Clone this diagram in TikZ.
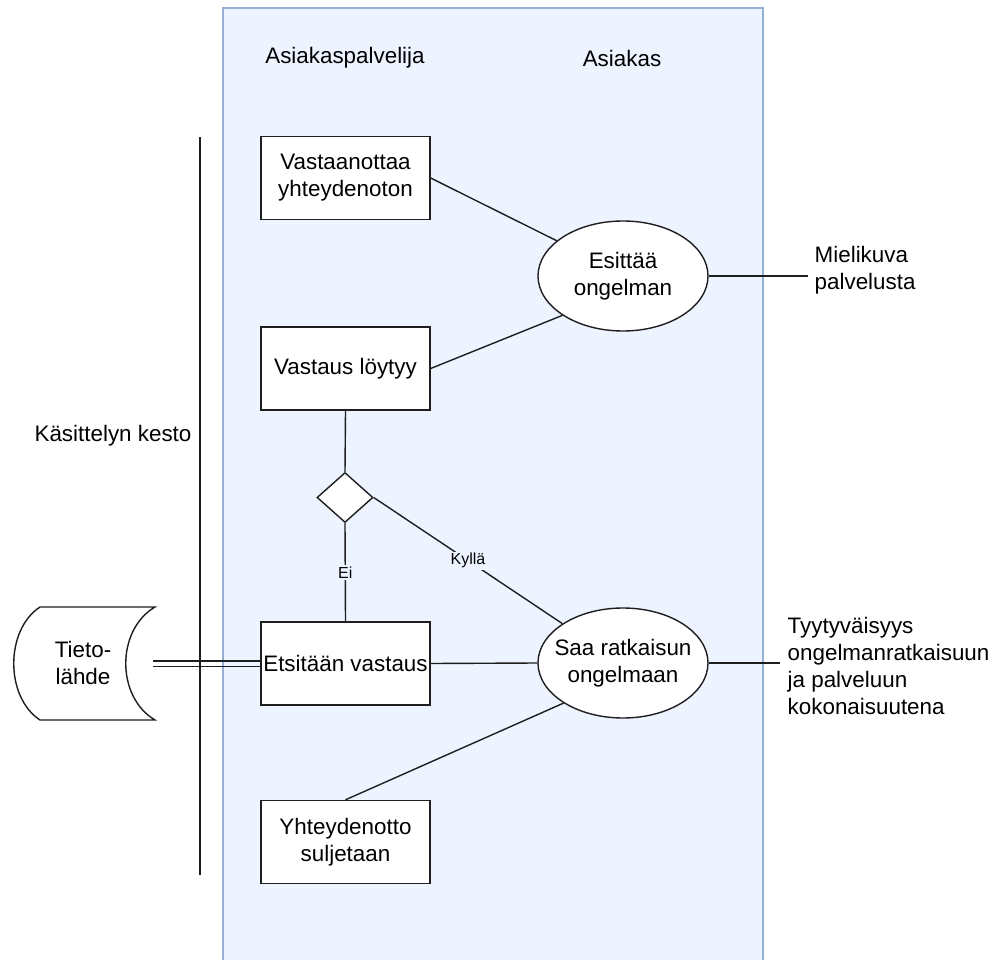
\documentclass[tikz,border=0pt]{standalone}
\usepackage{fontspec}
\setmainfont{Liberation Sans}
\usetikzlibrary{shapes.geometric}
\definecolor{lanefill}{RGB}{238,244,255}
\definecolor{lanedraw}{RGB}{150,175,215}
\definecolor{ink}{RGB}{30,30,30}
\begin{document}
\begin{tikzpicture}[x=1pt,y=-1pt,line width=1.4pt,draw=ink,
  every node/.style={font=\fontsize{22.4}{27}\selectfont,inner sep=0pt,text=black},
  every label/.style={font=\fontsize{22.4}{27}\selectfont,inner sep=0pt,align=center},
  proc/.style={draw=ink,fill=white,minimum width=169pt,minimum height=83pt,align=center},
  oval/.style={draw=ink,fill=white,ellipse,minimum width=170pt,minimum height=110pt},
  choice/.style={draw=ink,fill=white,diamond,minimum width=56pt,minimum height=50pt,inner sep=0pt},
  plain/.style={align=left},
  edgelabel/.style={fill=lanefill,inner sep=1.5pt,font=\fontsize{16}{19}\selectfont}
]
\useasboundingbox (0,0) rectangle (994,960);

% swimlane background
\draw[fill=lanefill,draw=lanedraw,line width=1.2pt] (223,8) rectangle (763,975);
\node (h1) at (345,58) {Asiakaspalvelija};
\node (h2) at (622,58) {Asiakas};

% duration bar
\coordinate (dtop) at (200,137);
\coordinate (dbot) at (200,875);
\draw (dtop) -- (dbot);
\node (dur) at (113,436) {Käsittelyn kesto};

% process boxes
\node[proc] (b1) at (345.5,178) {Vastaanottaa\\yhteydenoton};
\node[proc] (b2) at (345.5,368.5) {Vastaus löytyy};
\node[proc] (b3) at (345.5,663.5) {Etsitään vastaus};
\node[proc] (b4) at (345.5,842) {Yhteydenotto\\suljetaan};

% ellipses (fixed size, text set as a centred label)
\node[oval,label=center:{Esittää\\ongelman}] (e1) at (623,276) {};
\node[oval,label=center:{Saa ratkaisun\\ongelmaan}] (e2) at (623,663) {};

% decision
\node[choice] (d) at (345,497.5) {};

% data source
\draw[fill=white] (40,607) -- (155,607) .. controls (116,630) and (116,697) .. (155,720)
  -- (40,720) .. controls (5,697) and (5,630) .. (40,607) -- cycle;
\node[align=center] (src) at (83,663) {Tieto-\\lähde};
\coordinate (srcR) at (153,663.5);

% connectors
\draw (b1.east) -- (e1.152);
\draw (b2.east) -- (e1.213);
\draw (b2.south) -- (d.north);
\draw (d.south) -- node[edgelabel] {Ei} (b3.north);
\draw (d.east) -- node[edgelabel] {Kyllä} (e2.147);
\draw (b3.east) -- (e2.west);
\draw (b4.north) -- (e2.214);
\draw ([yshift=2.7pt]srcR) -- ([yshift=2.7pt]b3.west);
\draw ([yshift=-2.7pt]srcR) -- ([yshift=-2.7pt]b3.west);

% outcomes
\coordinate (o1) at (808,276);
\coordinate (o2) at (780,663);
\draw (e1.east) -- (o1);
\draw (e2.east) -- (o2);
\node[plain,anchor=west] (t1) at (814,270) {Mielikuva\\palvelusta};
\node[plain,anchor=west] (t2) at (787,666) {Tyytyväisyys\\ongelmanratkaisuun\\ja palveluun\\kokonaisuutena};
\end{tikzpicture}
\end{document}
